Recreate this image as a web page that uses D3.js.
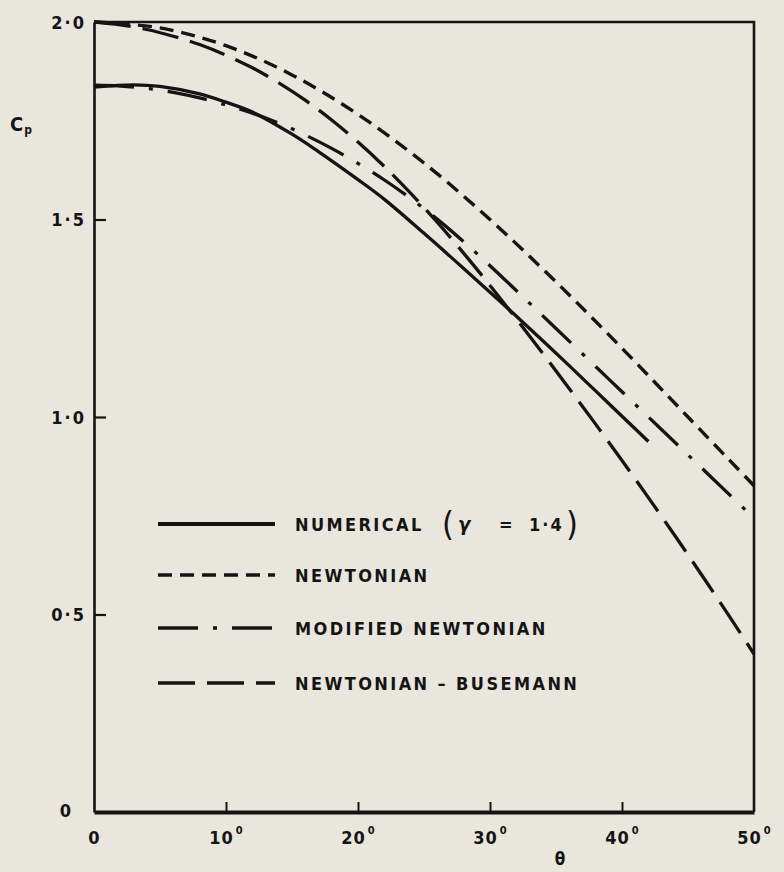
<!DOCTYPE html>
<html>
<head>
<meta charset="utf-8">
<script src="https://cdn.jsdelivr.net/npm/d3@7"></script>
<style>
  html, body { margin: 0; padding: 0; background: #e9e7dd; }
  svg { display: block; }
</style>
</head>
<body>
<svg id="chart" width="784" height="872"></svg>
<script>
// Surface pressure coefficient Cp against body angle theta (degrees)

// Numerical solution, gamma = 1.4
const numericalTheta = [0, 3, 5, 8, 10, 12, 15, 17, 20, 22, 25, 27, 30, 32, 34, 36, 38, 40, 42];
const numericalCp    = [1.835, 1.841, 1.837, 1.818, 1.797, 1.772, 1.716, 1.672, 1.601, 1.551, 1.465, 1.406, 1.316, 1.255, 1.193, 1.130, 1.066, 1.002, 0.938];

// Newtonian
const newtonianTheta = [0, 5, 10, 15, 20, 25, 30, 35, 40, 45, 50];
const newtonianCp    = [2.0, 1.985, 1.94, 1.866, 1.766, 1.643, 1.5, 1.342, 1.174, 1.0, 0.826];

// Modified Newtonian
const modifiedTheta = [0, 2, 4, 6, 8, 10, 12, 14, 16, 18, 20, 22, 24, 26, 28, 30, 32, 34, 36, 38, 40, 42, 44, 46, 48, 50];
const modifiedCp    = [1.84, 1.838, 1.832, 1.822, 1.808, 1.79, 1.769, 1.744, 1.714, 1.68, 1.642, 1.6, 1.553, 1.501, 1.444, 1.383, 1.32, 1.256, 1.192, 1.128, 1.064, 1.0, 0.936, 0.872, 0.808, 0.744];

// Newtonian-Busemann
const busemannTheta = [0, 2, 4, 6, 8, 10, 12, 14, 16, 18, 20, 22, 24, 26, 28, 30, 32, 34, 36, 38, 40, 42, 44, 46, 48, 50];
const busemannCp    = [2.0, 1.993, 1.981, 1.964, 1.943, 1.916, 1.884, 1.846, 1.802, 1.752, 1.696, 1.634, 1.566, 1.493, 1.415, 1.333, 1.248, 1.161, 1.072, 0.982, 0.89, 0.796, 0.7, 0.602, 0.502, 0.4];

// Axis ticks
const xTickValues = [0, 10, 20, 30, 40, 50];
const xTickLabels = ["0", "10", "20", "30", "40", "50"];
const yTickValues = [0, 0.5, 1.0, 1.5, 2.0];
const yTickLabels = ["0", "0\u00B75", "1\u00B70", "1\u00B75", "2\u00B70"];

// Legend entries
const legendLabels = ["NUMERICAL", "NEWTONIAN", "MODIFIED NEWTONIAN", "NEWTONIAN \u2013 BUSEMANN"];

const ink = "#141414";
const svg = d3.select("#chart");

const x = d3.scaleLinear().domain([0, 50]).range([94, 754]);
const y = d3.scaleLinear().domain([0, 2]).range([812, 22]);

const zip = (ts, cs) => ts.map((t, i) => ({ t, c: cs[i] }));
const series = [
  { name: legendLabels[0], pts: zip(numericalTheta, numericalCp), dash: null, width: 3.3 },
  { name: legendLabels[1], pts: zip(newtonianTheta, newtonianCp), dash: "14,8", width: 3.4 },
  { name: legendLabels[2], pts: zip(modifiedTheta, modifiedCp), dash: "40,15,4,15", width: 3.3 },
  { name: legendLabels[3], pts: zip(busemannTheta, busemannCp), dash: "37,12", width: 3.3 }
];

// Frame: top and right edges
svg.append("path")
  .attr("d", `M${x(0)},${y(2)}H${x(50)}V${y(0)}`)
  .attr("fill", "none").attr("stroke", ink).attr("stroke-width", 2.6);

// Bottom axis with inward ticks
const fontDigits = "'DejaVu Sans Condensed', 'DejaVu Sans', sans-serif";
const gx = svg.append("g")
  .attr("transform", `translate(0,${y(0)})`)
  .call(d3.axisBottom(x).tickValues(xTickValues).tickSize(-10).tickSizeOuter(0).tickPadding(0));
gx.select(".domain").attr("stroke", ink).attr("stroke-width", 4);
gx.selectAll(".tick line").attr("stroke", ink).attr("stroke-width", 2);
gx.selectAll(".tick text").each(function (d, i) {
  const t = d3.select(this);
  t.text(null)
    .attr("y", 32).attr("dy", null)
    .attr("fill", ink)
    .attr("font-family", fontDigits).attr("font-weight", "bold").attr("font-size", 18)
    .attr("text-anchor", "middle").attr("letter-spacing", 1);
  t.append("tspan").text(xTickLabels[i]);
  if (i > 0) {
    t.append("tspan").text("0").attr("font-size", 11).attr("dy", -10).attr("dx", 2);
  }
});

// Left axis with inward ticks
const gy = svg.append("g")
  .attr("transform", `translate(${x(0)},0)`)
  .call(d3.axisLeft(y).tickValues(yTickValues).tickSize(-12).tickSizeOuter(0).tickPadding(8));
gy.select(".domain").attr("stroke", ink).attr("stroke-width", 2.6);
gy.selectAll(".tick line").attr("stroke", ink).attr("stroke-width", 2.2);
gy.selectAll(".tick text").each(function (d, i) {
  const t = d3.select(this);
  t.text(yTickLabels[i])
    .attr("fill", ink)
    .attr("font-family", fontDigits).attr("font-weight", "bold").attr("font-size", 18)
    .attr("letter-spacing", 2).attr("dy", "0.35em");
  if (i === 0) t.attr("x", -21).attr("y", -2);
});
gy.selectAll(".tick").filter(d => d === 0 || d === 2).select("line").remove();
gx.selectAll(".tick").filter(d => d === 0 || d === 50).select("line").remove();

// Axis titles
const cp = svg.append("text").attr("x", 10).attr("y", 131)
  .attr("fill", ink).attr("font-family", fontDigits).attr("font-weight", "bold").attr("font-size", 20);
cp.append("tspan").text("C");
cp.append("tspan").text("p").attr("font-size", 12).attr("dy", 3).attr("dx", 1);

svg.append("text").attr("x", 560).attr("y", 865)
  .attr("fill", ink).attr("font-family", fontDigits).attr("font-weight", "bold").attr("font-size", 17)
  .attr("text-anchor", "middle").text("\u03B8");

// Curves
const line = d3.line().x(d => x(d.t)).y(d => y(d.c)).curve(d3.curveCatmullRom.alpha(0.5));
svg.append("g").selectAll("path")
  .data(series)
  .join("path")
  .attr("d", d => line(d.pts))
  .attr("fill", "none")
  .attr("stroke", ink)
  .attr("stroke-width", d => d.width)
  .attr("stroke-dasharray", d => d.dash)
  .attr("stroke-linejoin", "round");

// Legend
const legendRowsY = [524, 575, 628, 683];
const legend = svg.append("g");
series.forEach((s, i) => {
  const ly = legendRowsY[i];
  legend.append("line")
    .attr("x1", 158).attr("x2", 275).attr("y1", ly).attr("y2", ly)
    .attr("stroke", ink).attr("stroke-width", i === 0 ? 4 : 3.4)
    .attr("stroke-dasharray", s.dash);
  legend.append("text")
    .attr("x", 295).attr("y", ly + 7)
    .attr("fill", ink).attr("font-family", fontDigits).attr("font-weight", "bold")
    .attr("font-size", 18).attr("letter-spacing", 2.4)
    .text(s.name);
  if (i === 0) {
    const g = legend.append("g").attr("fill", ink).attr("font-family", fontDigits).attr("font-weight", "bold");
    g.append("text").attr("x", 442).attr("y", ly + 12).attr("font-size", 34).attr("font-weight", "normal").text("(");
    g.append("text").attr("x", 458).attr("y", ly + 7).attr("font-size", 20).attr("font-style", "italic").text("\u03B3");
    g.append("text").attr("x", 499).attr("y", ly + 7).attr("font-size", 18).text("=");
    g.append("text").attr("x", 529).attr("y", ly + 7).attr("font-size", 18).attr("letter-spacing", 2).text("1\u00B74");
    g.append("text").attr("x", 566).attr("y", ly + 12).attr("font-size", 34).attr("font-weight", "normal").text(")");
  }
});
</script>
</body>
</html>
